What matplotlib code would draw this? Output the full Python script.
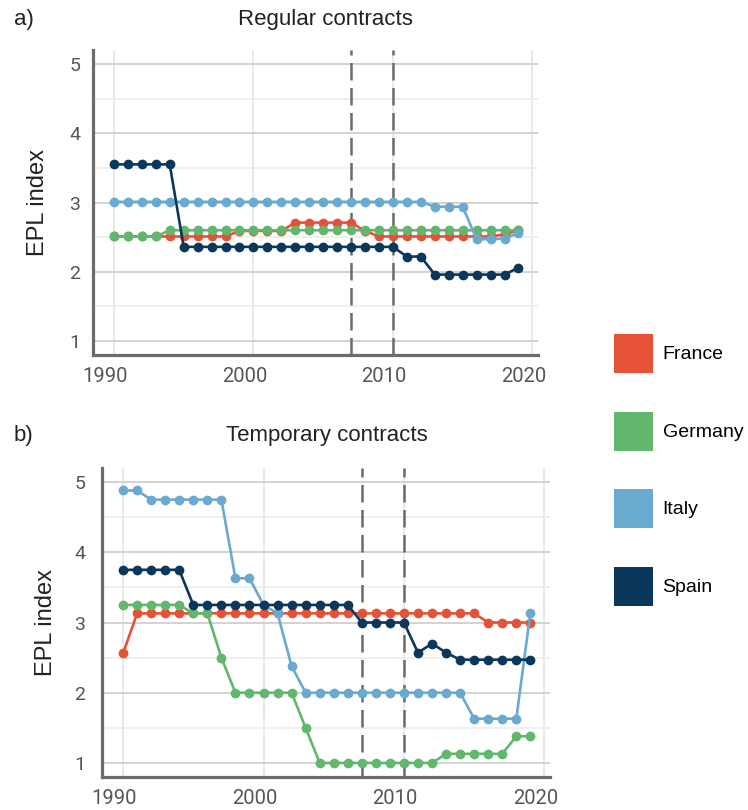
import matplotlib
matplotlib.use("Agg")
import matplotlib.pyplot as plt
from matplotlib.patches import Patch
from matplotlib.transforms import ScaledTranslation

plt.rcParams['font.family'] = ['Liberation Sans', 'DejaVu Sans']

years = list(range(1990, 2020))
countries = ["France", "Germany", "Italy", "Spain"]
colors = ["#E65237", "#62B76E", "#6BAAD0", "#0B375A"]

# Panel a) Regular contracts
reg_france = [2.51]*9 + [2.59]*4 + [2.71]*5 + [2.59] + [2.51]*9 + [2.54, 2.60]
reg_germany = [2.51]*4 + [2.60]*26
reg_italy = [3.01]*23 + [2.94]*3 + [2.47, 2.47, 2.48, 2.56]
reg_spain = [3.55]*5 + [2.36]*16 + [2.22]*2 + [1.96]*6 + [2.06]

# Panel b) Temporary contracts
tmp_france = [2.56] + [3.13]*25 + [3.0]*4
tmp_germany = [3.25]*5 + [3.13]*2 + [2.5] + [2.0]*5 + [1.5] + [1.0]*9 + [1.13]*5 + [1.38]*2
tmp_italy = [4.88]*2 + [4.75]*6 + [3.63]*2 + [3.25, 3.13, 2.38] + [2.0]*12 + [1.63]*4 + [3.13]
tmp_spain = [3.75]*5 + [3.25]*12 + [3.0]*4 + [2.57, 2.70, 2.57] + [2.47]*6

crisis_years = [2007, 2010]
xticks = [1990, 2000, 2010, 2020]
yticks = [1, 2, 3, 4, 5]

panels = [
    ("a)", "Regular contracts", [reg_france, reg_germany, reg_italy, reg_spain]),
    ("b)", "Temporary contracts", [tmp_france, tmp_germany, tmp_italy, tmp_spain]),
]

W, H = 748, 810
fig = plt.figure(figsize=(W/100, H/100), dpi=100)

# axes boxes in pixels: left, right, top, bottom
boxes = [(93, 538, 50, 355), (102, 550, 468, 777)]
title_y = [20, 435]
title_x = [325, 327]
ypads = [9, 12]
xpads = [8.5, 8.5]

for (tag, title, series), (l, r, t, b), ty, tx, yp, xp in zip(panels, boxes, title_y, title_x, ypads, xpads):
    ax = fig.add_axes([l/W, 1 - b/H, (r - l)/W, (b - t)/H])
    ax.set_xlim(1988.5, 2020.4)
    ax.set_ylim(0.8, 5.2)
    ax.set_xticks(xticks)
    ax.set_yticks(yticks)
    ax.set_yticks([1.5, 2.5, 3.5, 4.5], minor=True)
    ax.set_axisbelow(True)
    ax.grid(True, which='major', axis='y', color='#cfcfcf', lw=1.3)
    ax.grid(True, which='minor', axis='y', color='#ebebeb', lw=1.1)
    ax.grid(True, which='major', axis='x', color='#e3e3e3', lw=1.1)
    for s in ['top', 'right']:
        ax.spines[s].set_visible(False)
    for s in ['left', 'bottom']:
        ax.spines[s].set_color('#6b6b6b')
        ax.spines[s].set_linewidth(2.3)
    ax.tick_params(axis='both', which='both', length=0)
    ax.tick_params(axis='x', pad=xp, labelsize=14.5, labelcolor='#555555')
    ax.tick_params(axis='y', pad=yp, labelsize=14, labelcolor='#555555')
    for lab in ax.get_xticklabels() + ax.get_yticklabels():
        lab.set_fontfamily(['Roboto', 'DejaVu Sans'])
    off = ScaledTranslation(-9/100, 0, fig.dpi_scale_trans)
    for tk in ax.xaxis.get_major_ticks():
        tk.label1.set_transform(tk.label1.get_transform() + off)

    for cy in crisis_years:
        ax.axvline(cy, color='#6b6b6b', lw=1.8, dashes=(7, 3), zorder=1.5)

    for vals, c in zip(series, colors):
        ax.plot(years, vals, color=c, lw=1.9, marker='o', ms=6, zorder=3)

    ax.set_ylabel("EPL index", fontsize=17, color='#222222')
    ax.yaxis.set_label_coords(-0.1, 0.5)

    fig.text(tx/W, 1 - ty/H, title, ha='center', va='center', fontsize=16, color='#222222')
    fig.text(14/W, 1 - ty/H, tag, ha='left', va='center', fontsize=16, color='#222222')

handles = [Patch(facecolor=c, edgecolor='none', label=n) for c, n in zip(colors, countries)]
fig.legend(handles=handles, loc='upper left', bbox_to_anchor=(614/W, 1 - 334/H),
           frameon=False, handlelength=2.0, handleheight=2.71, labelspacing=1.98,
           handletextpad=0.5, borderpad=0, borderaxespad=0, fontsize=14)

fig.savefig("out.png", dpi=100)
